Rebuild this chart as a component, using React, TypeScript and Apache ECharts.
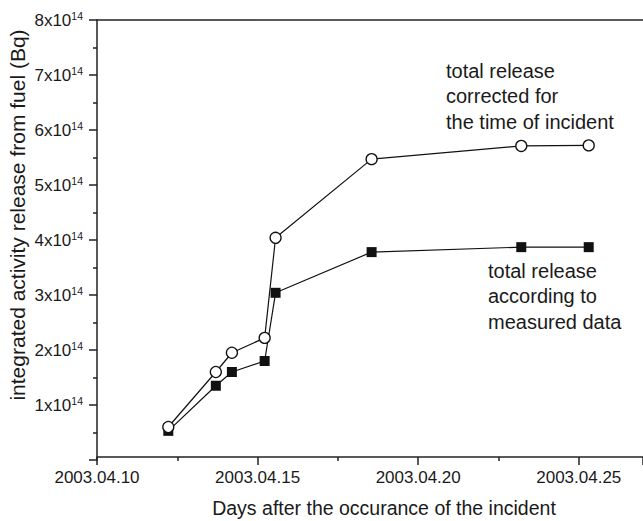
import React, { useEffect, useRef } from "react";
import * as echarts from "echarts";

// x: day of April 2003, y: in units of 1e14 Bq
const days = [12.22, 13.7, 14.2, 15.22, 15.56, 18.55, 23.21, 25.31];
const corrected = [0.6, 1.6, 1.95, 2.22, 4.04, 5.47, 5.71, 5.72];
const measured = [0.53, 1.35, 1.6, 1.8, 3.04, 3.78, 3.87, 3.87];
const xTitle = "Days after the occurance of the incident";
const yTitle = "integrated activity release from fuel (Bq)";
const noteCorrected = ["total release", "corrected for", "the time of incident"];
const noteMeasured = ["total release", "according to", "measured data"];

export default function App() {
  const ref = useRef<HTMLDivElement>(null);
  useEffect(() => {
    const chart = echarts.init(ref.current!, null, { renderer: "svg" });
    const font = "'Liberation Sans', Arial, sans-serif";
    const axisColor = "#222";
    const ink = "#1a1a1a";
    const lineStyle = { color: axisColor, width: 1.5 };
    chart.setOption({
      animation: false,
      grid: { left: 97, top: 20, right: -5, bottom: 61 },
      xAxis: [
        {
          type: "value",
          min: 10,
          max: 27,
          interval: 5,
          position: "bottom",
          offset: -3,
          axisLine: { show: true, onZero: false, lineStyle },
          axisTick: { show: true, inside: false, length: 8, lineStyle },
          minorTick: { show: true, splitNumber: 2, length: 4, lineStyle },
          splitLine: { show: false },
          minorSplitLine: { show: false },
          axisLabel: {
            formatter: (v: number) => `2003.04.${v}`,
            fontSize: 17,
            color: ink,
            margin: 12,
            fontFamily: font,
          },
        },
        {
          type: "value",
          min: 10,
          max: 27,
          position: "top",
          axisLine: { show: true, onZero: false, lineStyle },
          axisTick: { show: false },
          axisLabel: { show: false },
          splitLine: { show: false },
        },
      ],
      yAxis: {
        type: "value",
        min: 0,
        max: 8,
        interval: 1,
        axisLine: { show: true, onZero: false, lineStyle },
        axisTick: { show: true, inside: false, length: 8, lineStyle },
        minorTick: { show: true, splitNumber: 2, length: 4, lineStyle },
        splitLine: { show: false },
        minorSplitLine: { show: false },
        axisLabel: {
          formatter: (v: number) => (v === 0 ? "" : `{a|${v}x10}{b|14}`),
          margin: 14,
          rich: {
            a: { fontSize: 17, lineHeight: 20, color: ink, fontFamily: font },
            b: { fontSize: 10.5, lineHeight: 10, verticalAlign: "top", color: ink, fontFamily: font },
          },
        },
      },
      series: [
        {
          type: "line",
          data: days.map((d, i) => [d, measured[i]]),
          symbol: "rect",
          symbolSize: 10,
          itemStyle: { color: "#111" },
          lineStyle: { color: "#111", width: 1.2 },
        },
        {
          type: "line",
          data: days.map((d, i) => [d, corrected[i]]),
          symbol: "circle",
          symbolSize: 11,
          itemStyle: { color: "#fff", borderColor: "#111", borderWidth: 1.3 },
          lineStyle: { color: "#111", width: 1.2 },
        },
      ],
      graphic: [
        {
          type: "text",
          x: 384,
          y: 508,
          style: { text: xTitle, fontSize: 19.5, fontFamily: font, fill: ink, align: "center", verticalAlign: "middle" },
        },
        {
          type: "text",
          x: 17,
          y: 215,
          rotation: Math.PI / 2,
          style: { text: yTitle, fontSize: 21, fontFamily: font, fill: ink, align: "center", verticalAlign: "middle" },
        },
        {
          type: "text",
          x: 446,
          y: 58,
          style: { text: noteCorrected.join("\n"), fontSize: 20, lineHeight: 25.5, fontFamily: font, fill: ink, align: "left", verticalAlign: "top" },
        },
        {
          type: "text",
          x: 488,
          y: 258,
          style: { text: noteMeasured.join("\n"), fontSize: 20, lineHeight: 25.5, fontFamily: font, fill: ink, align: "left", verticalAlign: "top" },
        },
      ],
    });
    return () => chart.dispose();
  }, []);
  return <div ref={ref} style={{ position: "absolute", left: 0, top: 0, width: 643, height: 521 }} />;
}
